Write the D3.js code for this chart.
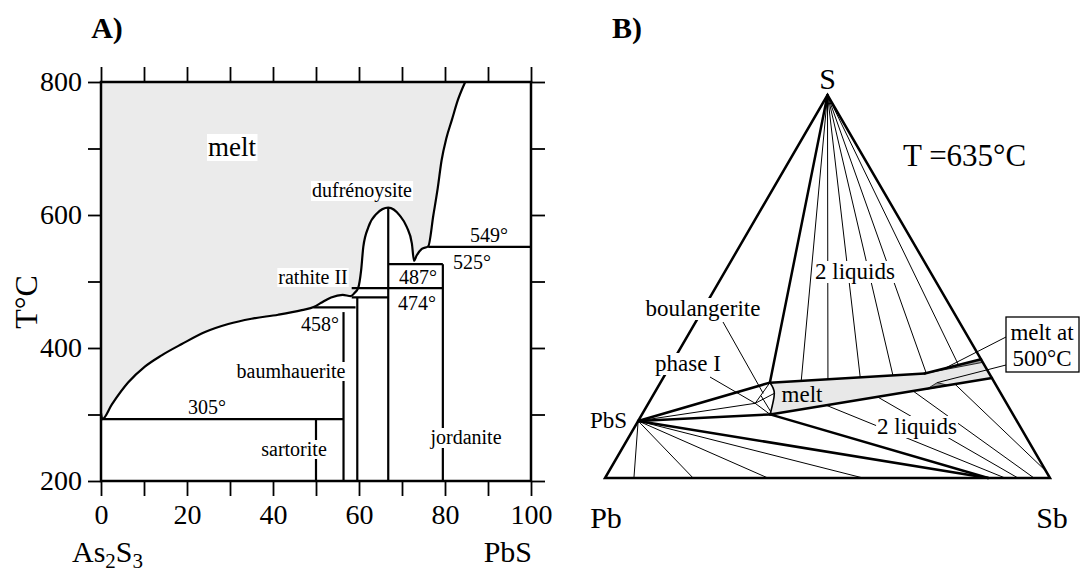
<!DOCTYPE html>
<html>
<head>
<meta charset="utf-8">
<script src="https://cdn.jsdelivr.net/npm/d3@7"></script>
<style>
  body { margin: 0; background: #fff; }
  text { font-family: "Liberation Serif", "Times New Roman", serif; fill: #000; }
</style>
</head>
<body>
<svg id="chart" width="1087" height="573"></svg>
<script>
// ---------- panel A : As2S3 - PbS (x = mol% PbS, y = T in degC) ----------
const pbsTicks = [0, 20, 40, 60, 80, 100];
const tempTicks = [200, 400, 600, 800];

// liquidus, left to right
const liquidus = [
  [0, 302], [0.3, 293], [2.5, 315], [6.3, 348], [10.2, 372], [14.1, 389], [18.8, 406],
  [24.2, 424], [29.6, 436], [35, 444], [41.2, 450], [46.7, 457], [49.6, 462],
  [51.2, 468], [53.5, 476], [56.2, 480], [58.1, 478], [59.0, 483], [59.8, 490],
  [60.5, 517], [61, 552], [62.2, 582], [64.1, 602], [66.8, 611], [69.5, 599],
  [71.1, 582], [72.3, 557], [72.8, 531], [73.4, 539], [74.6, 549], [76.1, 553],
  [77.3, 600], [78.3, 640], [79.2, 682], [80.3, 715], [81.6, 743], [83, 773], [84.7, 800]
];

// invariant (horizontal) lines
const invX0 = [0, 49.4, 58.3, 58.3, 66.8, 76.1];
const invX1 = [56.4, 59.2, 66.8, 79.5, 79.5, 100];
const invT = [293, 461, 476, 490, 526, 552];

// compound (vertical) lines
const compX = [50, 56.4, 59.6, 66.8, 79.5];
const compTop = [293, 454, 476, 611, 526];

// ---------- panel B : Pb - S - Sb at 635 degC (wt%) ----------
const apexS = { S: 100, Sb: 0 };
const pbs = { S: 14.9, Sb: 0 };
const phaseI = { S: 19.5, Sb: 24.0 };
const meltUpperLeft = { S: 24.9, Sb: 24.6 };
const meltLowerLeft = { S: 16.6, Sb: 28.8 };
const meltBulge = { S: 22.1, Sb: 27.0 };
const meltTopKink = { S: 27.3, Sb: 58.2 };
const meltTopRight = { S: 31.0, Sb: 69.0 };
const meltBottomRight = { S: 26.1, Sb: 73.9 };
const wedgeRight = { S: 30.2, Sb: 69.8 };
const sliver500 = [{ S: 23.2, Sb: 60.7 }, { S: 24.9, Sb: 62.2 }, { S: 24.2, Sb: 65.0 }];
const convergeBottom = { S: 0, Sb: 86.1 };

// tie lines from S to the upper melt boundary
const apexTieEnds = [
  { S: 25.4, Sb: 31.4 }, { S: 25.8, Sb: 37.2 }, { S: 26.3, Sb: 44.2 },
  { S: 26.8, Sb: 51.3 }, { S: 27.5, Sb: 58.4 }, { S: 29.6, Sb: 64.6 }
];
// tie lines from PbS to the Pb-Sb edge
const pbsTieEnds = [{ S: 0, Sb: 6.5 }, { S: 0, Sb: 19.8 }, { S: 0, Sb: 36.6 }, { S: 0, Sb: 58.0 }];
// tie lines across the lower two-liquid field
const lowerTieStart = [{ S: 19.0, Sb: 40.2 }, { S: 21.2, Sb: 50.6 }, { S: 22.7, Sb: 57.9 }, { S: 24.5, Sb: 66.4 }];
const lowerTieEnd = [{ S: 0, Sb: 89.9 }, { S: 0, Sb: 92.8 }, { S: 0, Sb: 96.4 }, { S: 1.8, Sb: 98.2 }];
const boulangeritePt = { S: 22.1, Sb: 24.5 };
const phaseInner = [{ S: 21.4, Sb: 24.4 }, { S: 17.2, Sb: 28.7 }];
const wedgeMid = { S: 28.6, Sb: 62.0 };

const svg = d3.select("#chart");

function label(g, str, px, py, size, opt = {}) {
  const t = g.append("text")
    .attr("x", px).attr("y", py)
    .attr("font-size", size)
    .attr("text-anchor", opt.anchor || "middle")
    .attr("font-weight", opt.bold ? "bold" : null)
    .text(str);
  if (opt.bg) {
    const b = t.node().getBBox();
    g.insert("rect", () => t.node())
      .attr("x", b.x - 1).attr("y", b.y + 2)
      .attr("width", b.width + 2).attr("height", b.height - 3)
      .attr("fill", "#fff");
  }
  return t;
}

// ================= panel A =================
const x = d3.scaleLinear().domain([0, 100]).range([101, 531]);
const y = d3.scaleLinear().domain([200, 800]).range([481, 82]);
const gA = svg.append("g");

gA.append("path")
  .datum(liquidus)
  .attr("fill", "#ebebeb")
  .attr("d", d3.area().x(d => x(d[0])).y0(y(800)).y1(d => y(d[1])).curve(d3.curveMonotoneX));

gA.selectAll(".comp")
  .data(compX)
  .enter().append("line")
  .attr("class", "comp")
  .attr("x1", d => x(d)).attr("x2", d => x(d))
  .attr("y1", (d, i) => y(compTop[i])).attr("y2", y(200))
  .attr("stroke", "#000").attr("stroke-width", 2.2);

gA.selectAll(".inv")
  .data(invT)
  .enter().append("line")
  .attr("class", "inv")
  .attr("x1", (d, i) => x(invX0[i])).attr("x2", (d, i) => x(invX1[i]))
  .attr("y1", d => y(d)).attr("y2", d => y(d))
  .attr("stroke", "#000").attr("stroke-width", 2.2);

gA.append("path")
  .datum(liquidus)
  .attr("fill", "none").attr("stroke", "#000").attr("stroke-width", 2.2)
  .attr("d", d3.line().x(d => x(d[0])).y(d => y(d[1])).curve(d3.curveMonotoneX));

gA.append("rect")
  .attr("x", x(0)).attr("y", y(800))
  .attr("width", x(100) - x(0)).attr("height", y(200) - y(800))
  .attr("fill", "none").attr("stroke", "#000").attr("stroke-width", 2.5);

function styleAxis(sel) {
  sel.select(".domain").remove();
  sel.attr("font-family", null).attr("font-size", 28);
  sel.selectAll(".tick line").attr("stroke-width", 1.8);
}

gA.append("g")
  .attr("transform", `translate(0, ${y(200)})`)
  .call(d3.axisBottom(x).tickValues(d3.range(0, 101, 10)).tickSize(15).tickPadding(8)
    .tickFormat(d => pbsTicks.includes(d) ? d : ""))
  .call(styleAxis);
gA.append("g")
  .attr("transform", `translate(0, ${y(800)})`)
  .call(d3.axisTop(x).tickValues(d3.range(0, 101, 10)).tickSize(15).tickFormat(""))
  .call(styleAxis);
gA.append("g")
  .attr("transform", `translate(${x(0)}, 0)`)
  .call(d3.axisLeft(y).tickValues(d3.range(200, 801, 100)).tickSize(13).tickPadding(6)
    .tickFormat(d => tempTicks.includes(d) ? d : ""))
  .call(styleAxis);
gA.append("g")
  .attr("transform", `translate(${x(100)}, 0)`)
  .call(d3.axisRight(y).tickValues(d3.range(200, 801, 100)).tickSize(14).tickFormat(""))
  .call(styleAxis);

// axis titles
gA.append("text")
  .attr("transform", "translate(37, 302) rotate(-90)")
  .attr("text-anchor", "middle").attr("font-size", 32)
  .text("T°C");
const as2s3 = gA.append("text").attr("x", 72).attr("y", 562).attr("font-size", 30);
as2s3.append("tspan").text("As");
as2s3.append("tspan").attr("font-size", 21).attr("dy", 6).text("2");
as2s3.append("tspan").attr("dy", -6).text("S");
as2s3.append("tspan").attr("font-size", 21).attr("dy", 6).text("3");
label(gA, "PbS", 532, 562, 30, { anchor: "end" });

// field labels
label(gA, "melt", 232, 156, 27, { bg: true });
label(gA, "dufrénoysite", 362, 197, 20, { bg: true });
label(gA, "rathite II", 313, 284, 20, { bg: true });
label(gA, "baumhauerite", 291, 378, 20, { bg: true });
label(gA, "sartorite", 294, 456, 20, { bg: true });
label(gA, "jordanite", 466, 444, 20, { bg: true });
label(gA, "305°", 207, 414, 20);
label(gA, "458°", 320, 331, 20);
label(gA, "474°", 417, 310, 20);
label(gA, "487°", 418, 284, 20);
label(gA, "525°", 472, 269, 20);
label(gA, "549°", 489, 242, 20);
label(gA, "A)", 107, 38, 30, { bold: true });

// ================= panel B =================
const tx = d3.scaleLinear().domain([0, 100]).range([605, 1050]);
const ty = d3.scaleLinear().domain([0, 100]).range([478, 95]);
const px = d => tx(d.Sb + d.S / 2);
const py = d => ty(d.S);
const gB = svg.append("g");
const poly = pts => "M" + pts.map(d => px(d) + "," + py(d)).join("L") + "Z";

gB.append("path")
  .attr("d", poly([meltUpperLeft, meltTopKink, meltTopRight, meltBottomRight, meltLowerLeft, meltBulge]))
  .attr("fill", "#e8e8e8");
gB.append("path")
  .attr("d", poly([meltTopKink, meltTopRight, wedgeRight]))
  .attr("fill", "#9a9a9a").attr("stroke", "#000").attr("stroke-width", 0.8);
gB.append("path")
  .attr("d", poly(sliver500))
  .attr("fill", "#9a9a9a").attr("stroke", "#000").attr("stroke-width", 0.8);

function seg(a, b, w) {
  gB.append("line")
    .attr("x1", px(a)).attr("y1", py(a)).attr("x2", px(b)).attr("y2", py(b))
    .attr("stroke", "#000").attr("stroke-width", w).attr("stroke-linecap", "round");
}

apexTieEnds.forEach(d => seg(apexS, d, 1));
pbsTieEnds.forEach(d => seg(pbs, d, 1));
lowerTieStart.forEach((d, i) => seg(d, lowerTieEnd[i], 1));
seg(pbs, phaseI, 1);
seg(phaseI, meltUpperLeft, 1);
seg(phaseI, meltBulge, 1);
seg(phaseI, meltLowerLeft, 1);
seg(phaseInner[0], phaseInner[1], 1);

// thick boundaries
seg(apexS, meltUpperLeft, 2.5);
seg(pbs, meltUpperLeft, 2.5);
seg(pbs, meltLowerLeft, 2.5);
seg(pbs, convergeBottom, 2.5);
seg(meltLowerLeft, convergeBottom, 2.5);
seg(meltUpperLeft, meltTopKink, 2.5);
seg(meltTopKink, meltTopRight, 2.5);
seg(meltLowerLeft, meltBottomRight, 2.5);
gB.append("path")
  .attr("d", d3.line().x(px).y(py).curve(d3.curveCardinal)([meltUpperLeft, meltBulge, meltLowerLeft]))
  .attr("fill", "none").attr("stroke", "#000").attr("stroke-width", 1.6);

// triangle
const corners = [{ S: 0, Sb: 0 }, { S: 0, Sb: 100 }, apexS];
gB.append("path")
  .attr("d", poly(corners))
  .attr("fill", "none").attr("stroke", "#000").attr("stroke-width", 2.5)
  .attr("stroke-linejoin", "miter");

// leader lines
function leader(x0, y0, d) {
  gB.append("line")
    .attr("x1", x0).attr("y1", y0).attr("x2", px(d)).attr("y2", py(d))
    .attr("stroke", "#000").attr("stroke-width", 1);
}
leader(723, 322, boulangeritePt);
leader(710, 377, phaseI);
leader(1006, 337, wedgeMid);
leader(1006, 365, sliver500[1]);

// labels
label(gB, "boulangerite", 703, 316, 23, { bg: true });
label(gB, "phase I", 688, 371, 23, { bg: true });
label(gB, "PbS", 627, 428, 23, { anchor: "end" });
label(gB, "melt", 802, 402, 23);
label(gB, "2 liquids", 855, 279, 23, { bg: true });
label(gB, "2 liquids", 917, 434, 23, { bg: true });
gB.append("rect")
  .attr("x", 1006).attr("y", 317).attr("width", 73).attr("height", 55)
  .attr("fill", "#fff").attr("stroke", "#000").attr("stroke-width", 1.3);
label(gB, "melt at", 1042, 340, 23);
label(gB, "500°C", 1042, 366, 23);
label(gB, "T =635°C", 903, 166, 31, { anchor: "start" });
label(gB, "S", px(apexS), 89, 30);
label(gB, "Pb", 606, 528, 30);
label(gB, "Sb", 1052, 528, 30);
label(gB, "B)", 627, 38, 30, { bold: true });
</script>
</body>
</html>
